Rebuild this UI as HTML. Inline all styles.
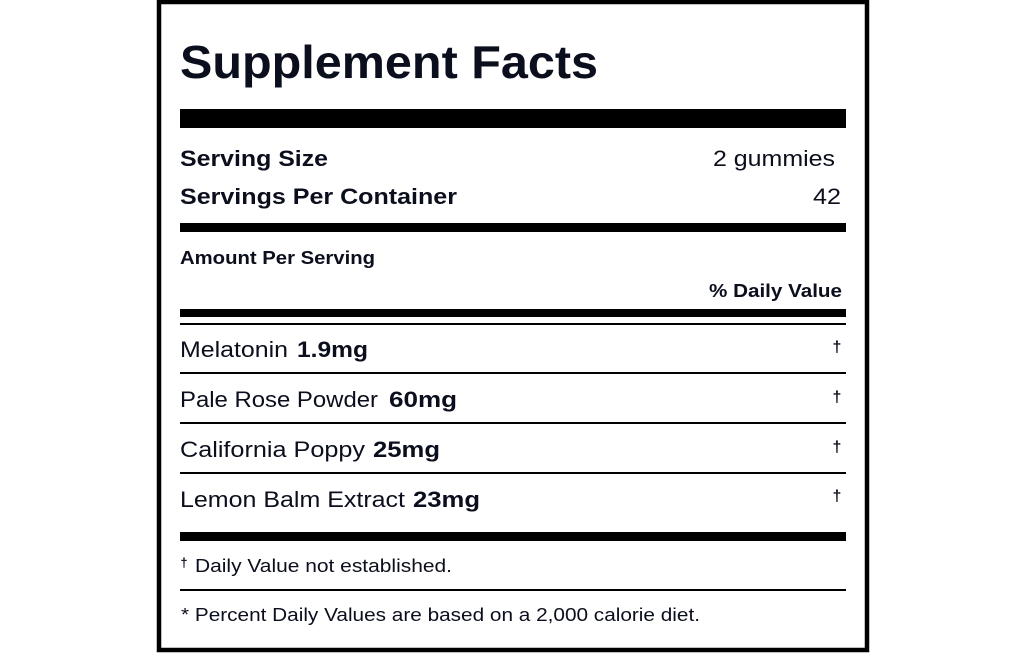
<!DOCTYPE html>
<html>
<head>
<meta charset="utf-8">
<style>
  html,body{margin:0;padding:0;background:#fff;}
  body{width:1024px;height:653px;overflow:hidden;}
  svg{display:block;}
  text{font-family:"Liberation Sans", Arial, sans-serif; fill:#0b0e1c;}
  .b{font-weight:bold;}
</style>
</head>
<body>
<svg width="1024" height="653" viewBox="0 0 1024 653" xmlns="http://www.w3.org/2000/svg">
  <rect x="0" y="0" width="1024" height="653" fill="#fff"/>
  <!-- outer box -->
  <rect x="159" y="2" width="708" height="648" fill="none" stroke="#000" stroke-width="4.5"/>

  <!-- Title -->
  <text class="b" x="180" y="78" font-size="46.5" textLength="418" lengthAdjust="spacingAndGlyphs">Supplement Facts</text>

  <!-- bars -->
  <rect x="180" y="109" width="666" height="19" fill="#000"/>
  <rect x="180" y="223" width="666" height="9" fill="#000"/>
  <rect x="180" y="309" width="666" height="8" fill="#000"/>
  <rect x="180" y="323" width="666" height="2" fill="#000"/>
  <rect x="180" y="372" width="666" height="2" fill="#000"/>
  <rect x="180" y="422" width="666" height="2" fill="#000"/>
  <rect x="180" y="472" width="666" height="2" fill="#000"/>
  <rect x="180" y="532" width="666" height="9" fill="#000"/>
  <rect x="180" y="589" width="666" height="2" fill="#000"/>

  <!-- Serving -->
  <text class="b" x="180" y="166" font-size="22.5" textLength="148" lengthAdjust="spacingAndGlyphs">Serving Size</text>
  <text x="713" y="166" font-size="22.5" textLength="122" lengthAdjust="spacingAndGlyphs">2 gummies</text>
  <text class="b" x="180" y="204" font-size="22.5" textLength="277" lengthAdjust="spacingAndGlyphs">Servings Per Container</text>
  <text x="813" y="204" font-size="22.5" textLength="28" lengthAdjust="spacingAndGlyphs">42</text>

  <!-- Amount per serving -->
  <text class="b" x="180" y="264" font-size="18" textLength="195" lengthAdjust="spacingAndGlyphs">Amount Per Serving</text>
  <text class="b" x="709" y="297" font-size="18" textLength="133" lengthAdjust="spacingAndGlyphs">% Daily Value</text>

  <!-- rows -->
  <text x="180" y="357" font-size="22" textLength="108" lengthAdjust="spacingAndGlyphs">Melatonin</text>
  <text class="b" x="297" y="357" font-size="22" textLength="71" lengthAdjust="spacingAndGlyphs">1.9mg</text>
  <text class="b" x="837" y="352" font-size="16" text-anchor="middle">†</text>

  <text x="180" y="407" font-size="22" textLength="198" lengthAdjust="spacingAndGlyphs">Pale Rose Powder</text>
  <text class="b" x="389" y="407" font-size="22" textLength="68" lengthAdjust="spacingAndGlyphs">60mg</text>
  <text class="b" x="837" y="402" font-size="16" text-anchor="middle">†</text>

  <text x="180" y="457" font-size="22" textLength="185" lengthAdjust="spacingAndGlyphs">California Poppy</text>
  <text class="b" x="373" y="457" font-size="22" textLength="67" lengthAdjust="spacingAndGlyphs">25mg</text>
  <text class="b" x="837" y="452" font-size="16" text-anchor="middle">†</text>

  <text x="180" y="507" font-size="22" textLength="225" lengthAdjust="spacingAndGlyphs">Lemon Balm Extract</text>
  <text class="b" x="413" y="507" font-size="22" textLength="67" lengthAdjust="spacingAndGlyphs">23mg</text>
  <text class="b" x="837" y="501" font-size="16" text-anchor="middle">†</text>

  <!-- footnotes -->
  <text class="b" x="184" y="567" font-size="13" text-anchor="middle">†</text>
  <text x="195" y="572" font-size="18" textLength="257" lengthAdjust="spacingAndGlyphs">Daily Value not established.</text>
  <text x="181" y="621" font-size="18" textLength="519" lengthAdjust="spacingAndGlyphs">* Percent Daily Values are based on a 2,000 calorie diet.</text>
</svg>
</body>
</html>
